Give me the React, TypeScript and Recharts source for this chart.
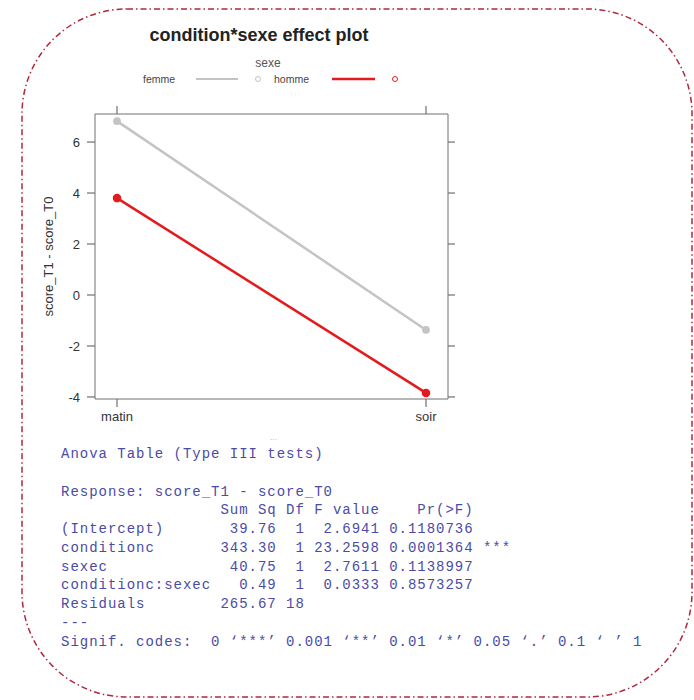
import React from 'react';
import { LineChart, Line, XAxis, YAxis, Legend, Label } from 'recharts';

const conditions = ['matin', 'soir'];
const femme = [6.82, -1.37];
const homme = [3.8, -3.84];
const yTicks = [-4, -2, 0, 2, 4, 6];
const yDomain = [-4.08, 7.1];

const titleText = 'condition*sexe effect plot';
const legendTitle = 'sexe';
const seriesNames = ['femme', 'homme'];
const yLabel = 'score_T1 - score_T0';

const anovaLines = [
  'Anova Table (Type III tests)',
  '',
  'Response: score_T1 - score_T0',
  '                 Sum Sq Df F value    Pr(>F)    ',
  '(Intercept)       39.76  1  2.6941 0.1180736    ',
  'conditionc       343.30  1 23.2598 0.0001364 ***',
  'sexec             40.75  1  2.7611 0.1138997    ',
  'conditionc:sexec   0.49  1  0.0333 0.8573257    ',
  'Residuals        265.67 18                      ',
  '---',
  'Signif. codes:  0 \u2018***\u2019 0.001 \u2018**\u2019 0.01 \u2018*\u2019 0.05 \u2018.\u2019 0.1 \u2018 \u2019 1',
];

const data = conditions.map((c, i) => ({ condition: c, femme: femme[i], homme: homme[i] }));

const GRAY = '#c4c4c4';
const RED = '#e41a1c';
const AXIS = '#707070';
const FONT = 'Liberation Sans, Arial, sans-serif';

const EmptyTick = () => <g />;

const LegendContent = () => (
  <svg width={300} height={40} style={{ display: 'block', overflow: 'visible' }}>
    <text x={138} y={13} textAnchor="middle" dominantBaseline="central" fontSize={12} fill="#555" fontFamily={FONT}>
      {legendTitle}
    </text>
    <text x={13} y={29} dominantBaseline="central" fontSize={10.5} fill="#444" fontFamily={FONT}>
      {seriesNames[0]}
    </text>
    <line x1={66} x2={108} y1={29} y2={29} stroke={GRAY} strokeWidth={2} />
    <circle cx={128} cy={29} r={2.5} fill="none" stroke={GRAY} strokeWidth={1} />
    <text x={144} y={29} dominantBaseline="central" fontSize={10.5} fill="#444" fontFamily={FONT}>
      {seriesNames[1]}
    </text>
    <line x1={202} x2={245} y1={29} y2={29} stroke={RED} strokeWidth={2.5} />
    <circle cx={265} cy={29} r={2.5} fill="none" stroke={RED} strokeWidth={1} />
  </svg>
);

export default function App() {
  return (
    <div style={{ position: 'absolute', left: 0, top: 0, width: 694, height: 700, background: '#fff', overflow: 'hidden' }}>
      <svg width={694} height={700} style={{ position: 'absolute', left: 0, top: 0 }}>
        <rect x={22} y={9} width={670} height={688} rx={105} ry={105} fill="none" stroke="#b0283c" strokeWidth={1.5} strokeDasharray="6 3 1.5 3" />
      </svg>
      <div style={{ position: 'absolute', left: 0, top: 0 }}>
        <LineChart width={694} height={440} data={data} margin={{ top: 104, left: 55, right: 236, bottom: 11 }}>
          <XAxis
            xAxisId="bottom"
            dataKey="condition"
            orientation="bottom"
            height={30}
            padding={{ left: 22, right: 22 }}
            stroke={AXIS}
            tickLine={{ stroke: AXIS, strokeWidth: 1.2 }}
            tickSize={8}
            tickMargin={5}
            tick={{ fill: '#333', fontSize: 13, fontFamily: FONT }}
          />
          <XAxis
            xAxisId="top"
            dataKey="condition"
            orientation="top"
            height={10}
            padding={{ left: 22, right: 22 }}
            stroke={AXIS}
            tickLine={{ stroke: AXIS, strokeWidth: 1.2 }}
            tickSize={8}
            tick={<EmptyTick />}
          />
          <YAxis
            yAxisId="left"
            type="number"
            domain={yDomain}
            ticks={yTicks}
            allowDataOverflow
            width={40}
            stroke={AXIS}
            tickLine={{ stroke: AXIS, strokeWidth: 1.2 }}
            tickSize={8}
            tickMargin={7}
            tick={{ fill: '#333', fontSize: 13, fontFamily: FONT }}
          >
            <Label value={yLabel} angle={-90} position="insideLeft" offset={-7} style={{ textAnchor: 'middle', fill: '#333', fontSize: 13, fontFamily: FONT }} />
          </YAxis>
          <YAxis
            yAxisId="right"
            orientation="right"
            type="number"
            domain={yDomain}
            ticks={yTicks}
            allowDataOverflow
            width={10}
            stroke={AXIS}
            tickLine={{ stroke: AXIS, strokeWidth: 1.2 }}
            tickSize={7}
            tick={<EmptyTick />}
          />
          <Legend
            layout="horizontal"
            verticalAlign="middle"
            align="center"
            content={<LegendContent />}
            wrapperStyle={{ position: 'absolute', left: 130, top: 50, width: 300, height: 40 }}
          />
          <Line
            xAxisId="bottom"
            yAxisId="left"
            dataKey="femme"
            name={seriesNames[0]}
            stroke={GRAY}
            strokeWidth={2.5}
            dot={{ r: 2.6, fill: GRAY, stroke: GRAY }}
            isAnimationActive={false}
          />
          <Line
            xAxisId="bottom"
            yAxisId="left"
            dataKey="homme"
            name={seriesNames[1]}
            stroke={RED}
            strokeWidth={2.5}
            dot={{ r: 3, fill: RED, stroke: RED }}
            isAnimationActive={false}
          />
        </LineChart>
      </div>
      <div
        style={{
          position: 'absolute',
          left: 0,
          top: 24,
          width: 518,
          textAlign: 'center',
          fontFamily: FONT,
          fontWeight: 'bold',
          fontSize: 18,
          lineHeight: '22px',
          color: '#222',
        }}
      >
        {titleText}
      </div>
      <div style={{ position: 'absolute', left: 270, top: 436, fontSize: 7, color: '#999', fontFamily: FONT }}>···</div>
      <pre
        style={{
          position: 'absolute',
          left: 61,
          top: 445,
          margin: 0,
          fontFamily: '"Courier New", "Liberation Mono", monospace',
          fontSize: 14,
          letterSpacing: '0.975px',
          lineHeight: '18.75px',
          color: '#4b4ba6',
        }}
      >
        {anovaLines.join('\n')}
      </pre>
    </div>
  );
}
